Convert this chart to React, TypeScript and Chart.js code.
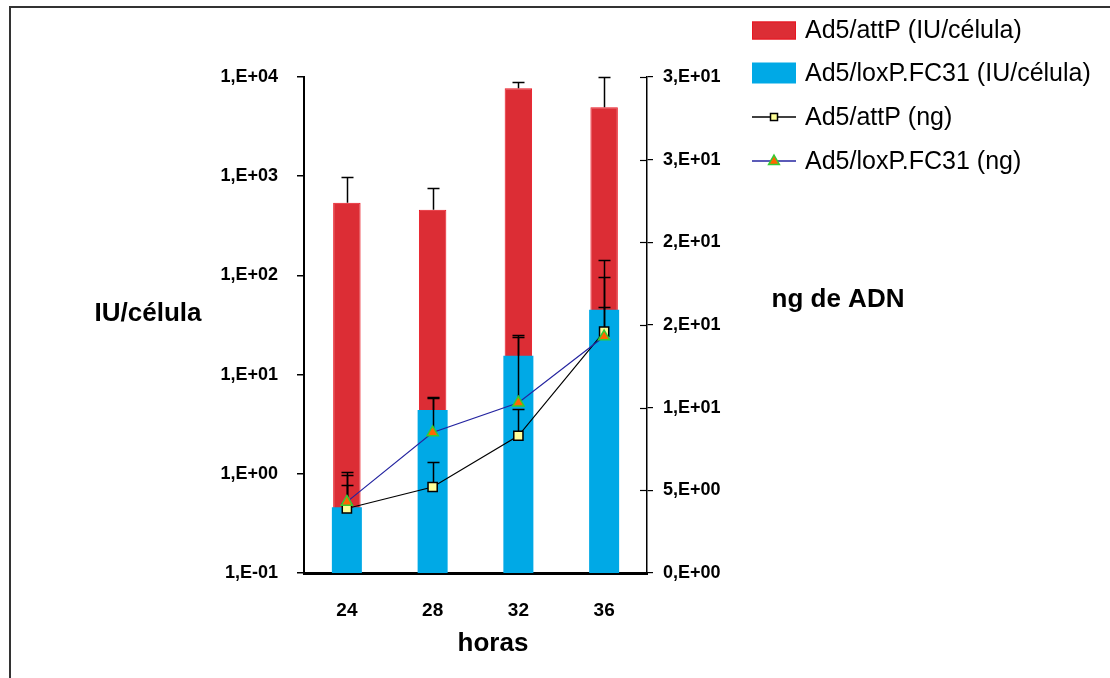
import React, { useEffect, useRef } from 'react';
import { Chart, registerables } from 'chart.js';

Chart.register(...registerables);

// ---- data ----
const hours = ['24', '28', '32', '36'];
const attPIU = [540, 460, 7700, 4950];
const attPIUErr = [980, 760, 8900, 10000];
const loxPIU = [0.46, 4.4, 15.5, 45];
const loxPIUErr = [1.04, 5.9, 25, 143];
const attPng = [3.9, 5.2, 8.3, 14.6];
const attPngErr = [5.3, 6.7, 9.9, 17.9];
const loxPng = [4.3, 8.5, 10.3, 14.3];
const loxPngErr = [5.9, 10.6, 14.3, 16.1];
const leftTicks = [0.1, 1, 10, 100, 1000, 10000];
const legendLabels = ['Ad5/attP (IU/célula)', 'Ad5/loxP.FC31 (IU/célula)', 'Ad5/attP (ng)', 'Ad5/loxP.FC31 (ng)'];
const titleLeft = 'IU/célula';
const titleRight = 'ng de ADN';
const titleX = 'horas';

const FONT = '"Liberation Sans", Arial, Helvetica, sans-serif';

function sci(v: number): string {
  if (v === 0) return '0,E+00';
  let e = Math.floor(Math.log10(Math.abs(v)) + 1e-9);
  let m = Math.round(v / Math.pow(10, e));
  if (m >= 10) { m = m / 10; e += 1; }
  const sign = e < 0 ? '-' : '+';
  return `${m},E${sign}${String(Math.abs(e)).padStart(2, '0')}`;
}

function drawSquare(ctx: CanvasRenderingContext2D, x: number, y: number, s: number, fill: string, stroke: string) {
  ctx.fillStyle = fill;
  ctx.strokeStyle = stroke;
  ctx.lineWidth = 1.5;
  ctx.fillRect(x - s / 2, y - s / 2, s, s);
  ctx.strokeRect(x - s / 2, y - s / 2, s, s);
}

function drawTri(ctx: CanvasRenderingContext2D, x: number, y: number, r: number, fill: string, stroke: string) {
  ctx.beginPath();
  ctx.moveTo(x, y - r);
  ctx.lineTo(x + r * 0.9, y + r * 0.6);
  ctx.lineTo(x - r * 0.9, y + r * 0.6);
  ctx.closePath();
  ctx.fillStyle = fill;
  ctx.fill();
  ctx.strokeStyle = stroke;
  ctx.lineWidth = 1.5;
  ctx.stroke();
}

const decor = {
  id: 'decor',
  beforeDraw(chart: any) {
    const { ctx, width, height } = chart;
    ctx.save();
    ctx.fillStyle = '#fff';
    ctx.fillRect(0, 0, width, height);
    ctx.strokeStyle = '#333';
    ctx.lineWidth = 2;
    ctx.beginPath();
    ctx.moveTo(10, height);
    ctx.lineTo(10, 7);
    ctx.lineTo(width, 7);
    ctx.stroke();
    ctx.restore();
  },
  afterDatasetDraw(chart: any, args: any) {
    if (args.index !== 1) return;
    const { ctx } = chart;
    ctx.save();
    ctx.strokeStyle = '#000';
    ctx.lineWidth = 1.5;
    chart.data.datasets.forEach((ds: any, di: number) => {
      const meta = chart.getDatasetMeta(di);
      const scale = chart.scales[ds.yAxisID];
      ds.errorTop.forEach((top: number, i: number) => {
        const el = meta.data[i];
        if (!el) return;
        const x = Math.round(el.x) + 0.5;
        const y0 = scale.getPixelForValue(ds.data[i]);
        const y1 = Math.round(scale.getPixelForValue(top)) + 0.5;
        ctx.beginPath();
        ctx.moveTo(x, y0);
        ctx.lineTo(x, y1);
        ctx.moveTo(x - 6, y1);
        ctx.lineTo(x + 6, y1);
        ctx.stroke();
      });
    });
    ctx.restore();
  },
  afterDraw(chart: any) {
    const { ctx } = chart;
    const y2 = chart.scales.y2;
    ctx.save();
    // inward halves of right-axis ticks
    ctx.strokeStyle = '#000';
    ctx.lineWidth = 1.2;
    y2.ticks.forEach((t: any) => {
      const y = Math.round(y2.getPixelForValue(t.value)) + 0.5;
      ctx.beginPath();
      ctx.moveTo(y2.left - 7, y);
      ctx.lineTo(y2.left, y);
      ctx.stroke();
    });
    // axis titles
    ctx.fillStyle = '#000';
    ctx.font = `bold 26px ${FONT}`;
    ctx.textAlign = 'center';
    ctx.textBaseline = 'middle';
    ctx.fillText(titleLeft, 148, 314);
    ctx.fillText(titleRight, 838, 300);
    ctx.fillText(titleX, 493, 644);
    // legend
    const rows = [30.5, 73, 117, 161];
    const sx = 752, sw = 44, tx = 805;
    ctx.font = `25px ${FONT}`;
    ctx.textAlign = 'left';
    chart.data.datasets.forEach((ds: any, i: number) => {
      const y = rows[i];
      if (ds.type === 'bar') {
        const h = i === 0 ? 18 : 21;
        ctx.fillStyle = ds.backgroundColor;
        ctx.fillRect(sx, y - h / 2, sw, h);
        if (ds.borderWidth) {
          ctx.strokeStyle = ds.borderColor;
          ctx.lineWidth = 1;
          ctx.strokeRect(sx + 0.5, y - h / 2 + 0.5, sw - 1, h - 1);
        }
      } else {
        ctx.strokeStyle = ds.borderColor;
        ctx.lineWidth = 1.5;
        ctx.beginPath();
        ctx.moveTo(sx, y);
        ctx.lineTo(sx + sw, y);
        ctx.stroke();
        if (ds.pointStyle === 'rect') drawSquare(ctx, sx + sw / 2, y, 7, ds.pointBackgroundColor, ds.pointBorderColor);
        else drawTri(ctx, sx + sw / 2, y, 6, ds.pointBackgroundColor, ds.pointBorderColor);
      }
      ctx.fillStyle = '#000';
      ctx.fillText(ds.label, tx, y + 1);
    });
    ctx.restore();
  },
};

export default function App() {
  const ref = useRef<HTMLCanvasElement | null>(null);
  useEffect(() => {
    if (!ref.current) return;
    const tickFont = { family: FONT, size: 18, weight: 'bold' as const };
    const chart = new Chart(ref.current, {
      type: 'bar',
      data: {
        labels: hours,
        datasets: [
          {
            type: 'bar', label: legendLabels[0], data: attPIU, yAxisID: 'y',
            backgroundColor: '#dc2d35', borderColor: '#ea1520', borderWidth: 1,
            barPercentage: 0.32, categoryPercentage: 1, grouped: false, order: 4,
            errorTop: attPIUErr,
          } as any,
          {
            type: 'bar', label: legendLabels[1], data: loxPIU, yAxisID: 'y',
            backgroundColor: '#00a9e6', borderWidth: 0,
            barPercentage: 0.35, categoryPercentage: 1, grouped: false, order: 3,
            errorTop: loxPIUErr,
          } as any,
          {
            type: 'line', label: legendLabels[2], data: attPng, yAxisID: 'y2',
            borderColor: '#000', borderWidth: 1.2, tension: 0,
            pointStyle: 'rect', pointRadius: 6.5, pointBackgroundColor: '#ffff99',
            pointBorderColor: '#000', pointBorderWidth: 1.5, order: 2,
            errorTop: attPngErr,
          } as any,
          {
            type: 'line', label: legendLabels[3], data: loxPng, yAxisID: 'y2',
            borderColor: '#2424a0', borderWidth: 1.2, tension: 0,
            pointStyle: 'triangle', pointRadius: 6.5, pointBackgroundColor: '#ff6600',
            pointBorderColor: '#33cc33', pointBorderWidth: 1.5, order: 1,
            errorTop: loxPngErr,
          } as any,
        ],
      },
      options: {
        animation: false,
        responsive: false,
        layout: { padding: { top: 77, left: 0, right: 0, bottom: 0 } },
        plugins: { legend: { display: false }, tooltip: { enabled: false } },
        scales: {
          x: {
            type: 'category',
            offset: true,
            grid: { display: false, drawTicks: false },
            border: { color: '#000', width: 3 },
            ticks: { font: { family: FONT, size: 19, weight: 'bold' }, color: '#000', padding: 26 },
            afterFit: (s: any) => { s.height = 105; },
          },
          y: {
            type: 'logarithmic',
            position: 'left',
            min: 0.1,
            max: 10000,
            afterBuildTicks: (s: any) => { s.ticks = leftTicks.map((v) => ({ value: v })); },
            grid: { drawOnChartArea: false, tickLength: 7, color: '#000', lineWidth: 1.5 },
            border: { color: '#000', width: 2 },
            ticks: { callback: (v: any) => sci(Number(v)), font: tickFont, color: '#000', padding: 19, autoSkip: false },
            afterFit: (s: any) => { s.width = 304; },
          },
          y2: {
            type: 'linear',
            position: 'right',
            min: 0,
            max: 30,
            grid: { drawOnChartArea: false, tickLength: 6, color: '#000', lineWidth: 1.2 },
            border: { color: '#000', width: 1.5 },
            ticks: { stepSize: 5, callback: (v: any) => sci(Number(v)), font: tickFont, color: '#000', padding: 10 },
            afterFit: (s: any) => { s.width = 463; },
          },
        },
      } as any,
      plugins: [decor],
    });
    return () => chart.destroy();
  }, []);
  return (
    <div style={{ position: 'absolute', left: 0, top: 0, width: 1110, height: 678 }}>
      <canvas ref={ref} width={1110} height={678} style={{ display: 'block' }} />
    </div>
  );
}
